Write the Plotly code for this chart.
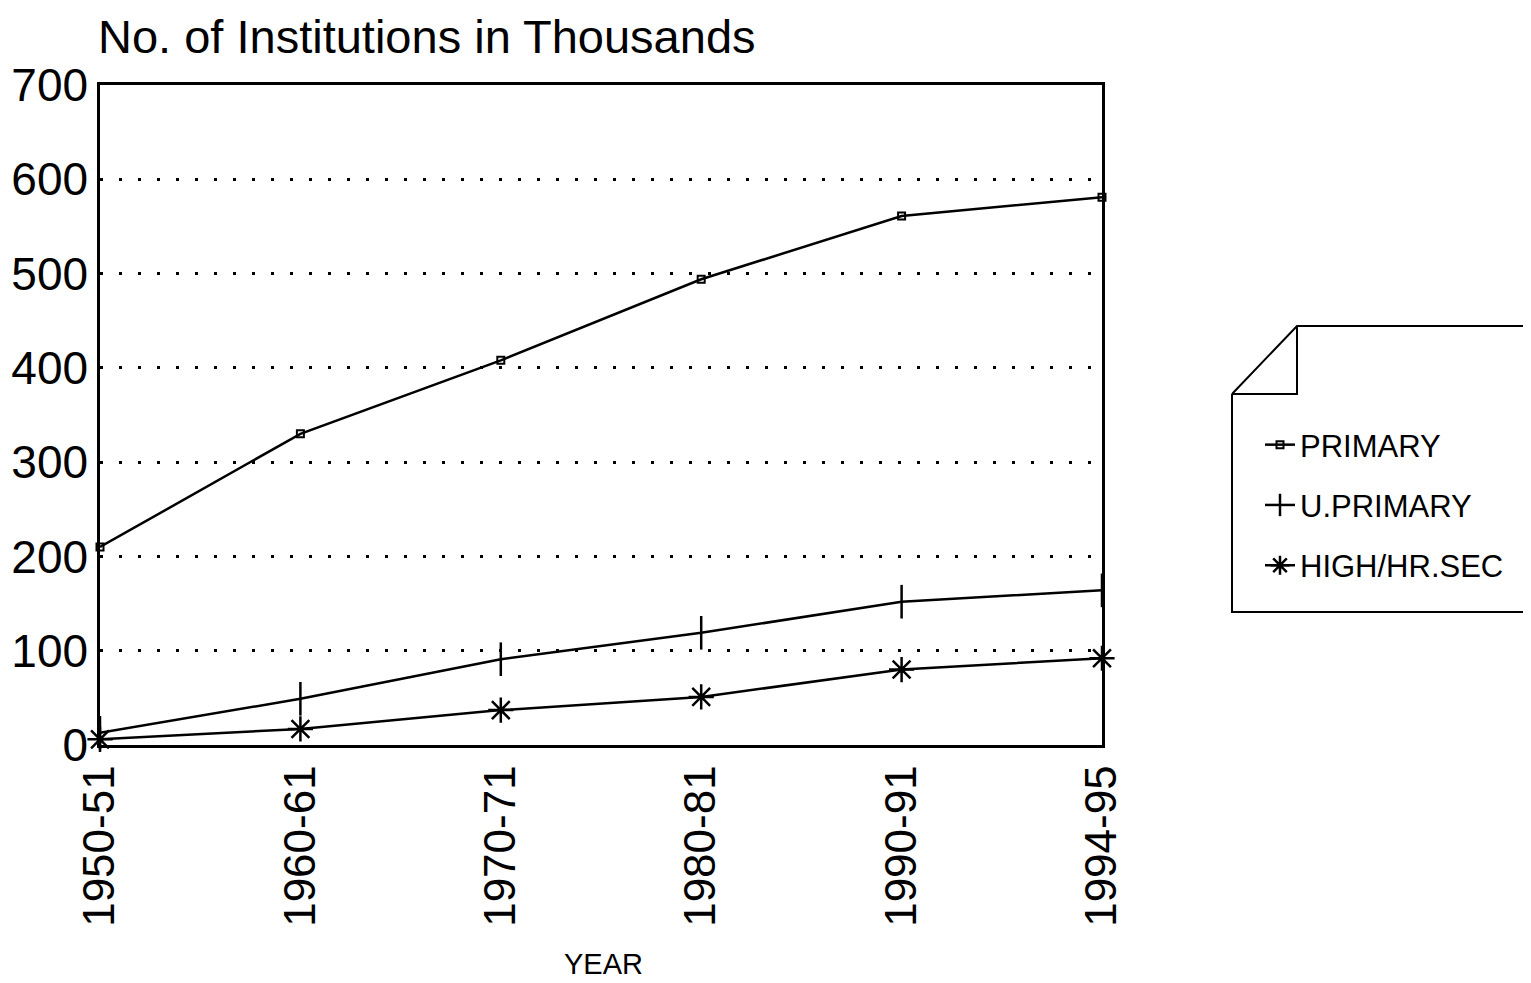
import plotly.graph_objects as go

years = ["1950-51", "1960-61", "1970-71", "1980-81", "1990-91", "1994-95"]
primary = [210, 330, 408, 494, 561, 581]
upper_primary = [13, 49, 91, 119, 152, 164]
high_hr_sec = [6, 17, 37, 51, 80, 92]
y_ticks = [0, 100, 200, 300, 400, 500, 600, 700]

OFF = 8  # page body margin
W, H = 1531 - OFF, 983 - OFF
L, R, T, B = 100, 1102, 85, 745  # plot area in screen pixels


def px(x):
    return (x - L) / (R - L)


def py(y):
    return (B - y) / (B - T)


fig = go.Figure()
fig.add_trace(go.Scatter(
    x=years, y=primary, name="PRIMARY", mode="lines+markers", legendgroup="a",
    cliponaxis=False,
    line=dict(color="black", width=2.5),
    marker=dict(symbol="square-open", size=7, color="black", line=dict(width=2, color="black")),
))
fig.add_trace(go.Scatter(
    x=years, y=upper_primary, name="U.PRIMARY", mode="lines+markers", legendgroup="b",
    cliponaxis=False,
    line=dict(color="black", width=2.5),
    marker=dict(symbol="line-ns-open", size=24, color="black", line=dict(width=2.5, color="black")),
))
fig.add_trace(go.Scatter(
    x=years, y=high_hr_sec, name="HIGH/HR.SEC", mode="lines+markers", legendgroup="c",
    cliponaxis=False,
    line=dict(color="black", width=2.5),
    marker=dict(symbol="asterisk-open", size=21, color="black", line=dict(width=2.5, color="black")),
))

# legend box with folded corner
path = (f"M {px(1232)},{py(394)} L {px(1297)},{py(326)} L {px(1540)},{py(326)} "
        f"M {px(1232)},{py(394)} L {px(1232)},{py(612)} L {px(1540)},{py(612)} "
        f"M {px(1232)},{py(394)} L {px(1297)},{py(394)} L {px(1297)},{py(326)}")
fig.add_shape(type="path", xref="paper", yref="paper", path=path,
              line=dict(color="black", width=2))

fig.add_annotation(text="No. of Institutions in Thousands", xref="paper", yref="paper",
                   x=px(96), y=py(36), xanchor="left", yanchor="middle", showarrow=False,
                   font=dict(family="Liberation Sans, Arial", size=47, color="black"))
fig.add_annotation(text="YEAR", xref="paper", yref="paper",
                   x=px(603), y=py(964), xanchor="center", yanchor="middle", showarrow=False,
                   font=dict(family="Liberation Sans, Arial", size=29, color="black"))

fig.update_layout(
    width=W, height=H,
    margin=dict(l=L - OFF, r=W - (R - OFF), t=T - OFF, b=H - (B - OFF), pad=0,
                autoexpand=False),
    paper_bgcolor="white", plot_bgcolor="white",
    showlegend=True,
    legend=dict(x=px(1260), y=py(418), xanchor="left", yanchor="top",
                bgcolor="rgba(0,0,0,0)", tracegroupgap=17,
                font=dict(family="Liberation Sans, Arial", size=31, color="black")),
    xaxis=dict(type="category", range=[0, 5], showgrid=False, zeroline=False,
               automargin=False,
               showline=True, linecolor="black", linewidth=2.5, mirror=True,
               ticks="", tickangle=-90, ticklabelstandoff=0,
               tickfont=dict(family="Liberation Sans, Arial", size=44, color="black")),
    yaxis=dict(range=[0, 700], tickvals=y_ticks, showgrid=True, gridcolor="black",
               automargin=False,
               gridwidth=3, griddash="3px,16px", zeroline=False,
               showline=True, linecolor="black", linewidth=2.5, mirror=True,
               ticks="", ticklabelstandoff=0,
               tickfont=dict(family="Liberation Sans, Arial", size=46, color="black")),
)

fig.write_html("out.html")
